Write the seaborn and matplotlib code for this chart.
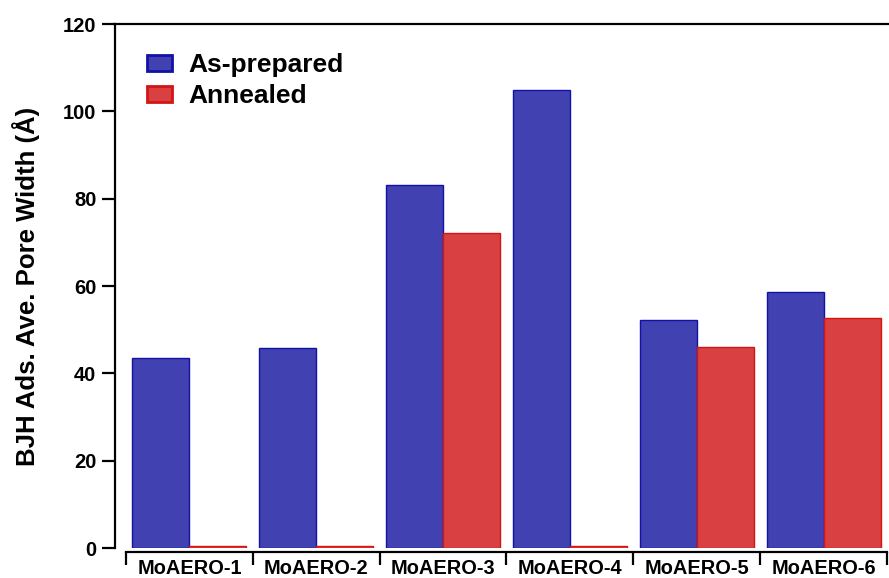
import matplotlib
matplotlib.use("Agg")
import matplotlib.pyplot as plt
from matplotlib.patches import Patch
from matplotlib.ticker import FixedLocator, NullFormatter
import seaborn as sns
import pandas as pd

samples = ["MoAERO-1", "MoAERO-2", "MoAERO-3", "MoAERO-4", "MoAERO-5", "MoAERO-6"]
as_prepared = [43.6, 45.9, 83.1, 104.9, 52.2, 58.6]
annealed = [0.4, 0.4, 72.1, 0.4, 46.1, 52.7]
states = ["As-prepared", "Annealed"]
y_ticks = [0, 20, 40, 60, 80, 100, 120]

fill_colors = ["#4141B1", "#D94041"]
edge_colors = ["#1212A6", "#D41515"]

df = pd.DataFrame({
    "sample": samples * 2,
    "width": as_prepared + annealed,
    "state": [states[0]] * len(samples) + [states[1]] * len(samples),
})

sns.set_style("ticks")
plt.rcParams["font.family"] = ["Liberation Sans", "DejaVu Sans"]
plt.rcParams["font.weight"] = "bold"
for key in ["text.color", "axes.labelcolor", "xtick.color", "ytick.color"]:
    plt.rcParams[key] = "black"

W, H = 889, 578
fig = plt.figure(figsize=(W / 100, H / 100), dpi=100)
ax = fig.add_axes([115 / W, 1 - 548 / H, (889 - 115) / W, (548 - 24) / H])

sns.barplot(data=df, x="sample", y="width", hue="state", order=samples,
            hue_order=states, palette=fill_colors, saturation=1, width=0.9,
            ax=ax, legend=False)

for cont, ec in zip(ax.containers, edge_colors):
    for bar in cont:
        bar.set_edgecolor(ec)
        bar.set_linewidth(1.0)

ax.set_xlim(-0.5 - 11 / 127, 5.5 + 2 / 127)
ax.set_ylim(0, 120)

# spines
for s in ["left", "top", "bottom"]:
    ax.spines[s].set_linewidth(1.6)
    ax.spines[s].set_color("black")
ax.spines["right"].set_visible(False)
ax.spines["bottom"].set_position(("outward", 3))
ax.spines["bottom"].set_bounds(-0.5, 5.5)

# y axis
ax.set_yticks(y_ticks)
ax.set_yticklabels([str(v) for v in y_ticks], fontsize=14.5, fontweight="bold")
ax.tick_params(axis="y", direction="out", length=9.5, width=1.6, pad=4, colors="black")

# x axis: boundary ticks as majors, category names on minors
ax.xaxis.set_major_locator(FixedLocator([i - 0.5 for i in range(len(samples) + 1)]))
ax.xaxis.set_major_formatter(NullFormatter())
ax.xaxis.set_minor_locator(FixedLocator(list(range(len(samples)))))
ax.set_xticklabels(samples, minor=True, fontsize=14.4, fontweight="bold")
ax.tick_params(axis="x", which="major", direction="out", length=9, width=1.6, colors="black")
ax.tick_params(axis="x", which="minor", length=0, pad=5, colors="black")

ax.set_xlabel("")
ax.set_ylabel("BJH Ads. Ave. Pore Width (Å)", fontsize=18.5, fontweight="bold")
ax.yaxis.set_label_coords(-(115 - 40) / 774, 0.5)

handles = [Patch(facecolor=f, edgecolor=e, linewidth=2.0) for f, e in zip(fill_colors, edge_colors)]
ax.legend(handles, states, loc="upper left", bbox_to_anchor=(32 / 774, 1 - 29 / 524),
          frameon=False, prop={"size": 19, "weight": "bold"}, borderpad=0,
          borderaxespad=0, handlelength=0.95, handleheight=0.57,
          handletextpad=0.6, labelspacing=0.28)

fig.savefig("out.png", dpi=100)
